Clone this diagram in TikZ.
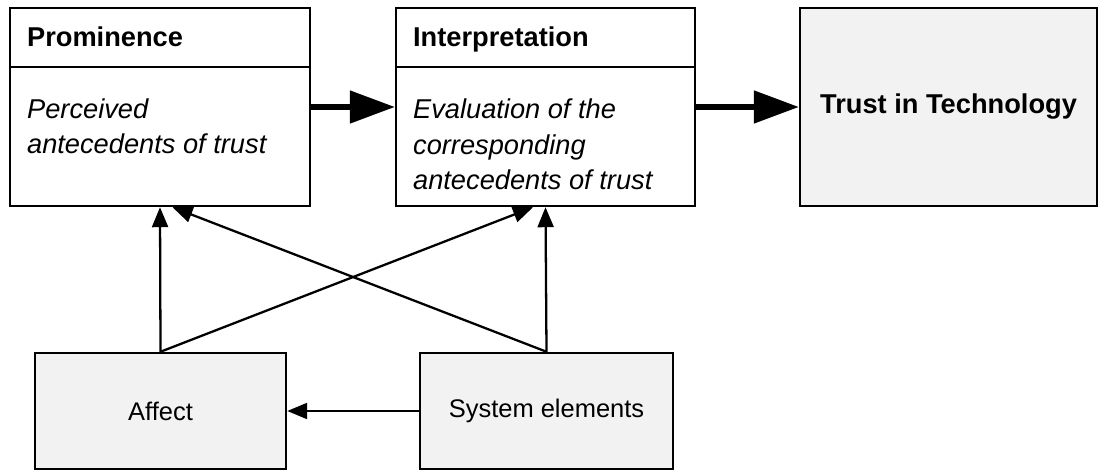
\documentclass[tikz,border=0pt]{standalone}
\usepackage{fontspec}
\setmainfont{Liberation Sans}
\usetikzlibrary{arrows.meta,positioning}

\begin{document}
\begin{tikzpicture}[
    every node/.style={font=\fontsize{15.5}{20}\selectfont},
    box/.style={draw, line width=1.4pt, minimum width=6cm, minimum height=3.96cm},
    graybox/.style={box, fill=black!5},
    lowbox/.style={graybox, minimum height=2.32cm, font=\fontsize{14.5}{18}\selectfont},
    label/.style={inner sep=0pt, align=left},
    smallarrow/.style={-{Triangle[length=0.4cm, width=0.32cm]}, line width=1.3pt},
    bigarrow/.style={-{Triangle[length=0.9cm, width=0.64cm]}, line width=2.9pt},
  ]
  \useasboundingbox (0, 0) rectangle (21.98, 9.44);

  % top row
  \node[box] (prom) at (3.2, 7.3) {};
  \node[box, minimum width=5.98cm] (interp) at (10.91, 7.3) {};
  \node[graybox, minimum width=5.94cm, font=\fontsize{15.5}{20}\selectfont\bfseries] (trust) at (18.97, 7.3) {Trust in Technology};

  \draw[line width=1.4pt] ([yshift=-1.2cm]prom.north west) -- ([yshift=-1.2cm]prom.north east);
  \draw[line width=1.4pt] ([yshift=-1.2cm]interp.north west) -- ([yshift=-1.2cm]interp.north east);

  \node[label, font=\fontsize{15.5}{20}\selectfont\bfseries, anchor=base west] (promhead) at ([xshift=0.36cm, yshift=-0.8cm]prom.north west) {Prominence};
  \node[label, font=\fontsize{15.5}{20}\selectfont\itshape, anchor=north west] (prombody) at ([xshift=0.36cm, yshift=-1.84cm]prom.north west) {Perceived\\antecedents of trust};
  \node[label, font=\fontsize{15.5}{20}\selectfont\bfseries, anchor=base west] (interphead) at ([xshift=0.36cm, yshift=-0.8cm]interp.north west) {Interpretation};
  \node[label, font=\fontsize{15.5}{20}\selectfont\itshape, anchor=north west] (interpbody) at ([xshift=0.36cm, yshift=-1.84cm]interp.north west) {Evaluation of the\\corresponding\\antecedents of trust};

  % bottom row
  \node[lowbox, minimum width=5.02cm] (affect) at (3.21, 1.22) {Affect};
  \node[lowbox, minimum width=5.06cm] (system) at (10.93, 1.22) {System elements};

  % influences
  \draw[bigarrow] (prom) -- (interp);
  \draw[bigarrow] (interp) -- (trust);
  \draw[smallarrow] (affect.north) -- (prom.south);
  \draw[smallarrow] (affect.north) -- ([xshift=-0.25cm]interp.south);
  \draw[smallarrow] (system.north) -- (interp.south);
  \draw[smallarrow] (system.north) -- ([xshift=0.25cm]prom.south);
  \draw[smallarrow] (system) -- (affect);
\end{tikzpicture}
\end{document}
